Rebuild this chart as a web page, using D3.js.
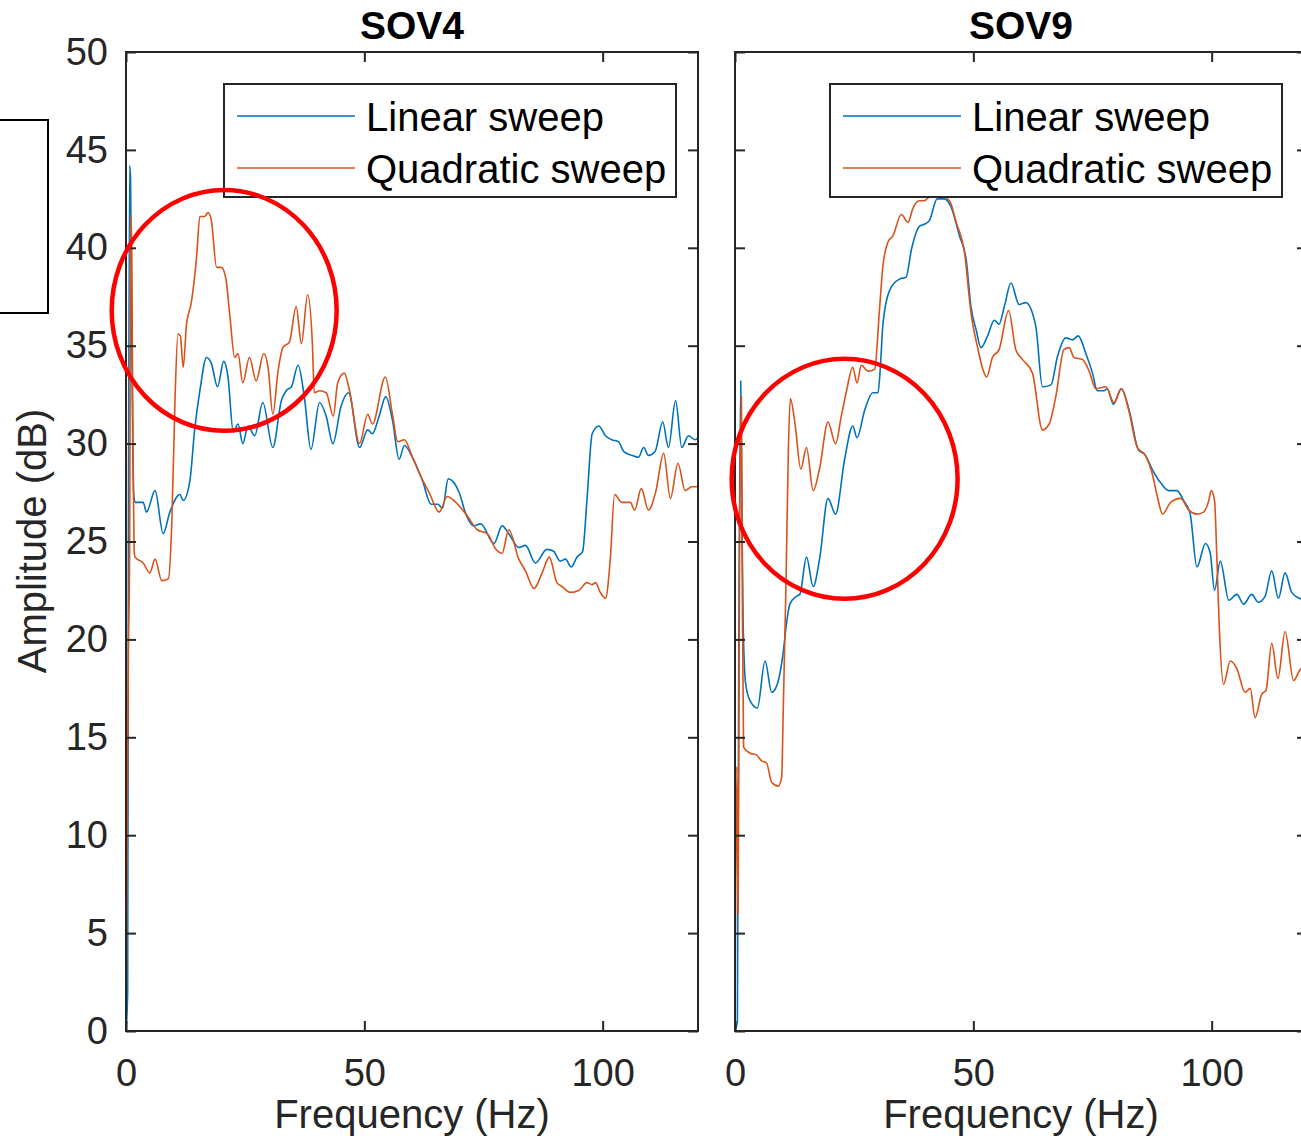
<!DOCTYPE html>
<html>
<head>
<meta charset="utf-8">
<script src="https://d3js.org/d3.v7.min.js"></script>
<style>
	body { margin:0; background:#fff; }
	svg { display:block; font-family:"Liberation Sans", Arial, Helvetica, sans-serif; }
</style>
</head>
<body>
<svg id="chart" width="1301" height="1136"></svg>
<script>
// [frequency Hz, amplitude dB]
const sov4Linear = [[0,0],[0.35,2],[0.5,24],[0.75,44.2],[0.95,43.6],[1.3,33],[1.6,27.5],[1.9,27.0],[3.6,27.0],[4.3,26.5],[6.1,27.6],[7.8,25.4],[9.2,26.5],[11.3,27.4],[12,27.1],[13.4,28.1],[14.4,30.7],[15.5,32.7],[16.9,34.4],[17.9,34.1],[19.2,32.9],[20.5,34.2],[21.4,33.4],[22.5,30.6],[23.5,31.0],[24.5,30.0],[25.6,30.9],[27,30.4],[28.7,32.1],[30.8,29.8],[32.6,32.2],[33.6,32.7],[34.7,32.9],[36.1,34.0],[37.4,32.4],[38.8,29.7],[40.6,32.1],[42,31.4],[43.4,30.0],[45.1,31.9],[46.7,32.6],[49,29.8],[50.7,30.7],[51.7,30.5],[53.1,31.4],[54.5,32.4],[55.9,31.2],[57.3,29.2],[58.4,29.9],[60.1,29.3],[62.2,28.1],[64,26.9],[65.4,26.9],[66.4,26.7],[67.6,28.2],[69.9,27.5],[71.3,26.4],[73,25.8],[74.4,25.9],[77.2,24.9],[78.9,25.8],[80.3,25.4],[82.4,24.7],[83.8,24.8],[85.9,23.9],[88.3,24.6],[89.7,24.5],[91.1,24.0],[92.2,24.1],[93.4,23.7],[94.6,24.2],[95.8,24.5],[96.7,27.1],[97.8,30.5],[99.2,30.9],[100.6,30.4],[101.9,30.2],[103.3,30.1],[104.4,29.6],[106.1,29.4],[107.5,29.3],[108.6,29.8],[109.6,29.4],[111,29.6],[112.6,31.1],[113.8,29.8],[115.3,32.2],[116.6,29.8],[118,30.4],[119.4,30.2],[120,30.3]]

const sov4Quadratic = [[0,0],[0.5,19.5],[0.75,24],[1.0,41.7],[1.2,40],[1.45,30],[1.7,24.6],[1.9,24.2],[3.6,23.9],[5,23.4],[6.1,24.1],[7.5,23.0],[8.9,23.1],[9.6,25.9],[10.3,32.4],[10.9,35.6],[11.4,35.5],[12,33.9],[12.7,36.1],[13.7,37.2],[14.8,39.5],[15.5,41.6],[16.5,41.6],[17.2,41.8],[17.9,41.4],[19,39.0],[20,39.0],[20.9,38.5],[21.8,36.5],[22.8,34.4],[23.5,34.6],[24.5,33.1],[25.9,34.4],[27.3,33.2],[28.9,34.6],[29.8,33.9],[30.8,31.5],[31.9,33.7],[32.9,34.9],[34.3,35.2],[35.7,37.0],[36.8,35.1],[38.1,37.6],[39.1,35.1],[39.5,32.6],[40.6,32.7],[42,32.6],[43.5,31.4],[44.4,33.1],[45.8,33.6],[46.9,32.7],[49,30.0],[50.7,31.5],[51.7,31.0],[54.4,33.4],[55.9,31.5],[57,30.1],[58.4,30.2],[60.1,29.3],[61.9,28.3],[63.6,27.5],[65.7,26.5],[67.4,27.3],[69.2,27.0],[71.6,26.3],[73.7,25.6],[75.8,25.4],[77.6,24.6],[78.9,24.4],[80.3,25.6],[82.4,24.1],[83.8,23.5],[85.6,22.6],[87.3,23.4],[88.8,24.2],[90.4,22.9],[91.5,22.7],[93.2,22.4],[95,22.5],[96.7,22.9],[97.8,22.8],[98.5,22.9],[99.5,22.4],[100.6,22.1],[101.6,24.1],[102.5,27.4],[104,27.0],[105.8,27.0],[106.7,26.6],[108.1,27.7],[109.6,26.6],[111.1,27.5],[112.8,29.5],[114.2,27.2],[115.8,29.0],[117.3,27.6],[118.7,27.8],[120,27.8]]

const sov9Linear = [[0,0],[0.5,0.5],[0.8,20],[1.2,33.2],[1.45,26],[1.7,21.0],[2.2,17.8],[3.1,16.9],[4.7,16.5],[6.3,18.9],[7.7,17.3],[8.7,17.6],[10.1,19.3],[10.8,20.8],[11.5,21.8],[12.9,22.2],[13.6,22.3],[15,24.2],[16.4,22.7],[17.8,24.2],[19.5,27.2],[21.1,26.4],[23,29.2],[24.7,30.9],[25.6,30.3],[27.2,31.7],[28.9,32.6],[30,32.6],[30.5,33.9],[31,36.0],[32.4,37.8],[34.5,38.4],[35.9,38.5],[37,39.9],[38.7,41.1],[39.7,41.2],[40.8,41.4],[42.4,42.5],[43.9,42.5],[45.3,42.1],[47.1,40.6],[48.5,39.4],[49.5,37.0],[50.6,35.8],[51.6,34.9],[53,35.5],[54.4,36.3],[55.4,36.1],[56.5,37.0],[57.9,38.2],[59.6,37.1],[61,37.2],[63.1,36.0],[64.5,32.9],[66.3,33.0],[67.6,34.4],[69.4,35.4],[70.8,35.3],[72,35.5],[73.6,34.6],[75,33.6],[76,32.7],[77.4,32.7],[78.1,32.8],[79.4,32.0],[81,32.8],[82.8,31.6],[84.6,29.7],[86.1,29.4],[87.5,28.7],[89.3,28.0],[91,27.6],[92.7,27.6],[94.1,27.1],[95.5,26.4],[96.9,23.7],[98.7,24.9],[99.7,24.4],[100.6,22.5],[101.8,24.0],[103.6,22.0],[105.3,22.3],[106.7,21.8],[108.4,22.3],[109.8,21.9],[111.2,22.2],[112.6,23.5],[114,22.1],[115.4,23.4],[116.8,22.4],[118.4,22.1],[120,22.0]]

const sov9Quadratic = [[0,0],[0.4,13.5],[0.65,6],[0.95,24],[1.35,32.4],[1.55,22],[1.8,14.5],[3.1,14.2],[4.5,14.1],[5.6,13.8],[6.6,13.7],[7.7,12.7],[9.1,12.5],[9.8,13.0],[10.1,16.1],[10.7,22.9],[11.2,29.7],[11.6,32.3],[12.6,31.0],[13.8,28.7],[15,29.8],[16.4,27.6],[17.8,28.8],[19.5,31.1],[21.1,30.0],[22.3,31.4],[23.4,32.7],[24.7,33.9],[25.6,33.1],[26.5,34.0],[27.9,33.7],[29.3,33.8],[30.3,36.8],[31,39.0],[32.1,40.3],[33.1,40.6],[34.9,41.7],[36.3,41.3],[37.3,42.0],[38.7,42.4],[39.7,42.4],[40.8,42.6],[42.9,42.7],[45,42.4],[46.4,41.3],[48.3,39.5],[49,37.8],[49.5,36.7],[50.9,34.9],[52,33.8],[52.8,33.4],[54,34.4],[55.4,34.8],[57.4,36.8],[58.9,34.8],[60.3,34.3],[62.4,33.6],[64.5,30.7],[65.9,31.0],[67.3,32.4],[69,34.8],[70.1,34.9],[71.1,34.4],[72.9,34.3],[74.3,33.7],[75.7,32.8],[77.8,32.9],[79.5,32.1],[81.1,32.8],[82.6,31.7],[84.4,29.8],[86.1,29.4],[87.5,28.5],[88.6,27.3],[89.7,26.4],[91.4,27.0],[93.5,27.2],[95.2,26.6],[96.9,26.4],[98.3,26.5],[99.4,27.1],[99.9,27.6],[100.6,27.1],[101.1,24.1],[101.6,20.6],[102.5,17.7],[103.9,18.9],[105.3,18.5],[107,17.3],[108.1,17.5],[109.1,16.0],[110.5,17.2],[111.4,17.4],[112.6,19.8],[113.9,18.0],[115.4,20.4],[117.2,17.9],[118.4,18.4],[120,18.8]]

const panelTitles = ['SOV4','SOV9']
const seriesNames = ['Linear sweep','Quadratic sweep']
const seriesColors = ['#0072BD','#D95319']
const xTicks = [0,50,100]
const yTicks = [0,5,10,15,20,25,30,35,40,45,50]
// red annotation ellipses: [centre Hz, centre dB, radius Hz, radius dB]
const marks = [[20.6,36.8,23.6,6.15],[23.0,28.2,23.7,6.13]]

let panels = [
	{ title:panelTitles[0], x0:126, legendDx:98, series:[sov4Linear,sov4Quadratic], mark:marks[0], yLabels:true },
	{ title:panelTitles[1], x0:735, legendDx:95, series:[sov9Linear,sov9Quadratic], mark:marks[1], yLabels:false }
]

let plotTop = 52, plotBottom = 1031, pw = 572
let axisColor = '#262626'
let svg = d3.select('#chart')

// stray frame on the left edge
svg.append('rect')
	.attr('x',-2).attr('y',120).attr('width',50).attr('height',193)
	.attr('fill','none').attr('stroke','#000').attr('stroke-width',2)

panels.forEach((p,pi)=>{
	let x = d3.scaleLinear().domain([0,120]).range([p.x0, p.x0 + pw])
	let y = d3.scaleLinear().domain([0,50]).range([plotBottom, plotTop])
	let g = svg.append('g').attr('class','panel'+pi)

	let clipId = 'clip'+pi
	svg.append('clipPath').attr('id',clipId)
		.append('rect').attr('x',p.x0).attr('y',plotTop).attr('width',pw).attr('height',plotBottom-plotTop)

	let line = d3.line()
		.x(d => x(d[0]))
		.y(d => y(d[1]))
		.curve(d3.curveMonotoneX)

	let lines = g.append('g').attr('clip-path','url(#'+clipId+')')
	p.series.forEach((s,i)=>{
		lines.append('path')
			.attr('d', line(s))
			.attr('fill','none')
			.attr('stroke', seriesColors[i])
			.attr('stroke-width',1.6)
			.attr('stroke-linejoin','round')
	})

	// axes, ticks pointing inward
	let xb = g.append('g').attr('transform','translate(0,'+plotBottom+')')
		.call(d3.axisBottom(x).tickValues(xTicks).tickSize(-10).tickPadding(28))
	let xt = g.append('g').attr('transform','translate(0,'+plotTop+')')
		.call(d3.axisTop(x).tickValues(xTicks).tickSize(-10).tickFormat(''))
	let yl = g.append('g').attr('transform','translate('+p.x0+',0)')
		.call(d3.axisLeft(y).tickValues(yTicks).tickSize(-10).tickPadding(18)
			.tickFormat(p.yLabels ? d3.format('d') : ''))
	let yr = g.append('g').attr('transform','translate('+(p.x0+pw)+',0)')
		.call(d3.axisRight(y).tickValues(yTicks).tickSize(-10).tickFormat(''))

	;[xb,xt,yl,yr].forEach(a=>{
		a.select('.domain').remove()
		a.selectAll('line').attr('stroke',axisColor).attr('stroke-width',2)
		a.selectAll('text').attr('fill',axisColor).style('font-size','38px')
			.style('font-family','"Liberation Sans", Arial, Helvetica, sans-serif')
	})

	g.append('rect')
		.attr('x',p.x0).attr('y',plotTop).attr('width',pw).attr('height',plotBottom-plotTop)
		.attr('fill','none').attr('stroke',axisColor).attr('stroke-width',2)

	g.append('text')
		.attr('x', p.x0 + pw/2).attr('y',39)
		.attr('text-anchor','middle')
		.style('font-size','39px').style('font-weight','bold')
		.attr('fill','#000')
		.text(p.title)

	g.append('text')
		.attr('x', p.x0 + pw/2).attr('y',1128)
		.attr('text-anchor','middle')
		.style('font-size','40px')
		.attr('fill',axisColor)
		.text('Frequency (Hz)')

	// legend
	let lx = p.x0 + p.legendDx, ly = 84
	let lg = g.append('g')
	lg.append('rect')
		.attr('x',lx).attr('y',ly).attr('width',452).attr('height',113)
		.attr('fill','#fff').attr('stroke',axisColor).attr('stroke-width',2)
	seriesNames.forEach((n,i)=>{
		let yy = ly + 32 + i*52
		lg.append('line')
			.attr('x1',lx+13).attr('x2',lx+131).attr('y1',yy).attr('y2',yy)
			.attr('stroke',seriesColors[i]).attr('stroke-width',1.6)
		lg.append('text')
			.attr('x',lx+142).attr('y',yy+15)
			.style('font-size','40px')
			.attr('fill','#000')
			.text(n)
	})

	let m = p.mark
	g.append('ellipse')
		.attr('cx',x(m[0])).attr('cy',y(m[1]))
		.attr('rx',x(m[2]) - x(0)).attr('ry',y(0) - y(m[3]))
		.attr('fill','none').attr('stroke','#ff0000').attr('stroke-width',4.5)
})

svg.append('text')
	.attr('transform','translate(46,541) rotate(-90)')
	.attr('text-anchor','middle')
	.style('font-size','40px')
	.attr('fill',axisColor)
	.text('Amplitude (dB)')
</script>
</body>
</html>
